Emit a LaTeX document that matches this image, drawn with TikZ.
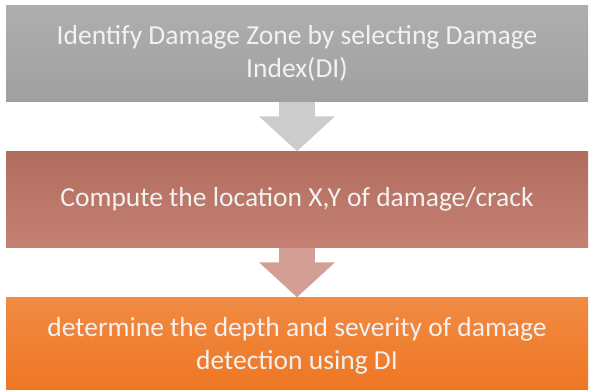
\documentclass[tikz,border=0pt]{standalone}
\usepackage{fontspec}
\setmainfont{Carlito}
\usetikzlibrary{positioning, arrows.meta}
\definecolor{zonegray}{HTML}{A0A0A0}
\definecolor{locred}{HTML}{C07666}
\definecolor{depthorange}{HTML}{EE7622}

\begin{document}
\begin{tikzpicture}[node distance=146pt,
                font=\fontsize{27.5}{33}\selectfont,
                stage/.style={rectangle, minimum width=582pt, minimum height=96pt,
                              inner sep=0pt, align=center, text=white!95!black},
                flow/.style={-{Triangle[width=74pt,length=35pt]}, line width=36pt}]
        \useasboundingbox (0,0) rectangle (589pt,-389pt);
        \node [stage, top color=zonegray!85!white, bottom color=zonegray] (zone) at (297pt,-53.5pt)
              {Identify Damage Zone by selecting Damage\\Index(DI)};
        \node [stage, top color=locred!92!black, bottom color=locred!92!white, below of = zone] (location)
              {Compute the location X,Y of damage/crack};
        \node [stage, top color=depthorange!85!white, bottom color=depthorange, below of = location] (depth)
              {determine the depth and severity of damage\\detection using DI};

%% arrows
        \draw [flow, color=gray!40] (zone.south) -- (location.north);
        \draw [flow, color=locred!70!white] (location.south) -- (depth.north);
\end{tikzpicture}
\end{document}
